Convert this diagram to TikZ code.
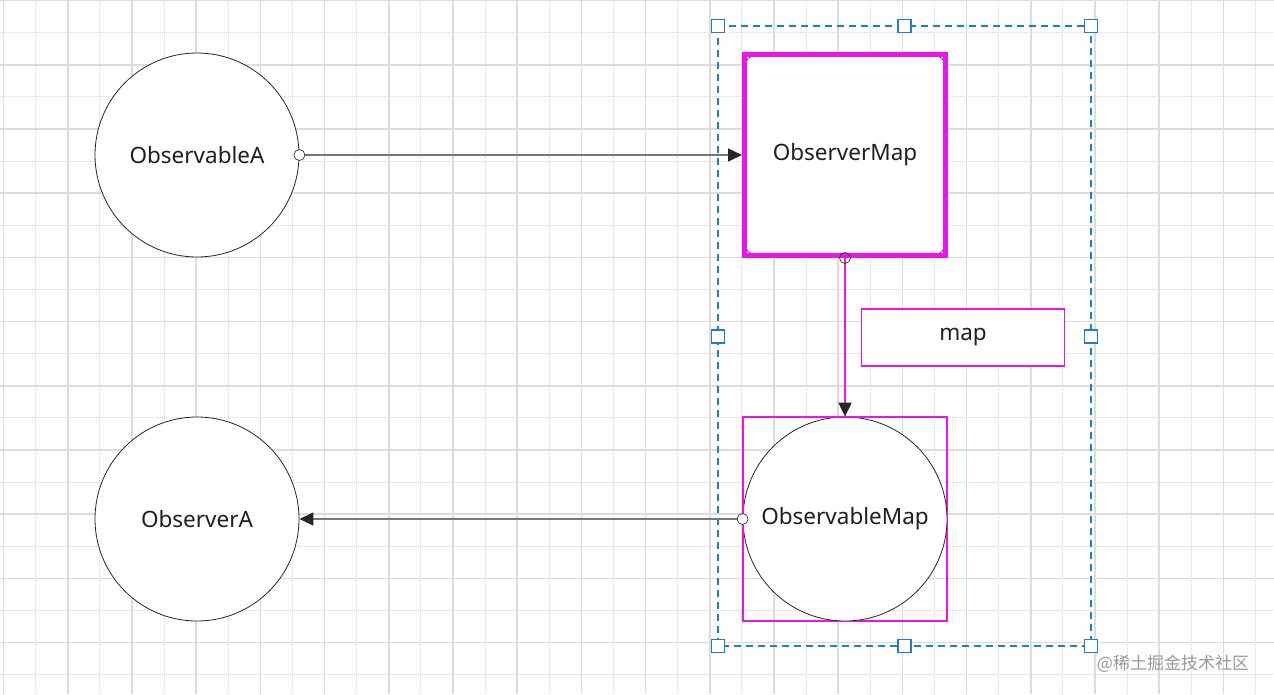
\documentclass[tikz,border=0pt]{standalone}
\usepackage{fontspec}
\setmainfont{Noto Sans}
\newfontfamily\cjk{Noto Sans CJK SC}
\usetikzlibrary{arrows.meta}
\definecolor{mag}{RGB}{236,20,236}
\definecolor{selblue}{RGB}{30,124,216}
\definecolor{gridmaj}{RGB}{220,220,220}
\definecolor{gridmin}{RGB}{215,215,215}
\definecolor{linegray}{RGB}{120,120,120}
\tikzset{
  lbl/.style={font=\fontsize{22.5}{26}\selectfont, text=black!88},
  circnode/.style={circle, draw=black!85, line width=0.8pt, fill=white, minimum size=204pt, inner sep=0pt, lbl},
  obsmapbox/.style={rectangle, draw=mag, line width=5pt, minimum size=201pt, inner sep=0pt, lbl},
  labelbox/.style={rectangle, draw=mag, line width=1.5pt, fill=white, minimum width=203pt, minimum height=57pt, inner sep=0pt, lbl},
  selbox/.style={rectangle, draw=mag, line width=1.5pt, minimum size=203pt, inner sep=0pt},
  handle/.style={rectangle, draw=selblue, line width=1.8pt, fill=white, minimum size=13pt, inner sep=0pt},
  conn/.style={draw=linegray, line width=1.5pt, -{Triangle[length=14pt, width=13pt, color=black!85]}},
  magconn/.style={draw=mag, line width=2pt, -{Triangle[length=14pt, width=13pt, color=black!85]}},
  startdot/.style={draw=black!80, line width=0.7pt, fill=white},
}
\begin{document}
\begin{tikzpicture}[x=1pt, y=-1pt]
\useasboundingbox (0,0) rectangle (1274,694);
\fill[white] (0,0) rectangle (1274,694);
% grid
\foreach \i in {0,...,19} {
  \draw[gridmin, line width=1pt, dash pattern=on 1pt off 1pt] ({35.6+64.2*\i},0) -- ({35.6+64.2*\i},694);
}
\foreach \i in {0,...,10} {
  \draw[gridmin, line width=1pt, dash pattern=on 1pt off 1pt] (0,{32.6+64.2*\i}) -- (1274,{32.6+64.2*\i});
}
\foreach \i in {0,...,19} {
  \draw[gridmaj, line width=1.6pt] ({3.5+64.2*\i},0) -- ({3.5+64.2*\i},694);
}
\foreach \i in {0,...,10} {
  \draw[gridmaj, line width=1.6pt] (0,{0.5+64.2*\i}) -- (1274,{0.5+64.2*\i});
}

% selection frame
\coordinate (s1) at (718,26);
\coordinate (s2) at (1091,646);
\draw[selblue, line width=1.6pt, dash pattern=on 7pt off 5pt] (s1) rectangle (s2);

% shapes
\node[circnode] (oa) at (197,155) {ObservableA};
\node[circnode] (ob) at (197,519) {ObserverA};
\fill[white] (744.5,54.5) rectangle (945.5,255.5);
\draw[black!80, line width=0.7pt, rounded corners=13pt] (744.5,54.5) rectangle (945.5,255.5);
\node[obsmapbox] (om) at (845,155) {ObserverMap};
\node[labelbox] (mp) at (963,337.5) {map};
\node[selbox] (omsel) at (845,519) {};
\node[circnode] (obm) at (845,519) {ObservableMap};
\draw[mag, line width=1.5pt] (omsel.north west) rectangle (omsel.south east);

% connectors
\draw[conn] (oa.east) -- (om.west);
\draw[startdot] (oa.east) circle (5.5pt);
\draw[magconn] (om.south) -- (obm.north);
\draw[startdot, fill=none] (om.south) circle (5.5pt);
\draw[conn] (obm.west) -- (ob.east);
\draw[startdot] (obm.west) circle (5.5pt);

% handles
\foreach \p/\n in {{718,26}/h1, {904.5,26}/h2, {1091,26}/h3, {718,336.5}/h4, {1091,336.5}/h5, {718,646}/h6, {904.5,646}/h7, {1091,646}/h8} {
  \node[handle] (\n) at (\p) {};
}

% watermark
\node[text=black!40, font=\cjk\fontsize{17}{20}\selectfont, anchor=center] (wm) at (1173,664) {@稀土掘金技术社区};
\end{tikzpicture}
\end{document}
